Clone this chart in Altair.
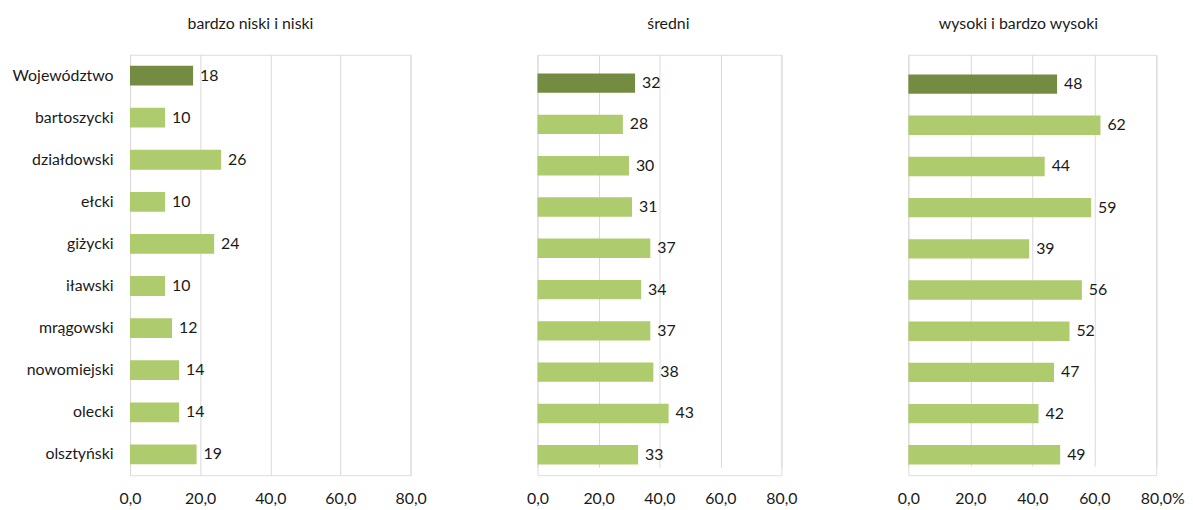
import altair as alt
import pandas as pd

# ---- data ----
regions = ["Województwo", "bartoszycki", "działdowski", "ełcki", "giżycki",
           "iławski", "mrągowski", "nowomiejski", "olecki", "olsztyński"]
niski = [18, 10, 26, 10, 24, 10, 12, 14, 14, 19]
sredni = [32, 28, 30, 31, 37, 34, 37, 38, 43, 33]
wysoki = [48, 62, 44, 59, 39, 56, 52, 47, 42, 49]
panel_titles = ["bardzo niski i niski", "średni", "wysoki i bardzo wysoki"]
x_ticks = [0, 20, 40, 60, 80]

FONT = "Lato"
TXT = "#1a1a1a"
DARK = "#748C42"
LIGHT = "#AECB6E"
GRID = "#D9D9D9"
H = 424


def panel(values, title, width, top_gap, show_y, title_dx, pct):
    df = pd.DataFrame({"region": regions, "value": values})
    df["kind"] = ["woj"] + ["pow"] * (len(regions) - 1)

    lab = "replace(format(datum.value, '.1f'), '.', ',')"
    axis_kw = dict(values=x_ticks, grid=True, gridColor=GRID, gridWidth=1,
                   domain=False, ticks=False, labelPadding=16, labelFlush=False,
                   labelFont=FONT, labelFontSize=16, labelColor=TXT, title=None)
    if pct:
        lab = lab + " + (datum.value == 80 ? '%' : '')"
        axis_kw["labelAlign"] = {"condition": {"test": "datum.value == 80", "value": "left"},
                                 "value": "center"}
        axis_kw["labelOffset"] = {"condition": {"test": "datum.value == 80", "value": -16},
                                  "value": 0}
    x = alt.X("value:Q", scale=alt.Scale(domain=[0, 80], nice=False),
              axis=alt.Axis(labelExpr=lab, **axis_kw))

    if show_y:
        yaxis = alt.Axis(title=None, domain=False, ticks=False, labelPadding=17,
                         labelFont=FONT, labelFontSize=16, labelColor=TXT)
    else:
        yaxis = None
    y = alt.Y("region:N", sort=regions,
              scale=alt.Scale(paddingInner=0.53, paddingOuter=0.26, range=[top_gap, H]),
              axis=yaxis)

    base = alt.Chart(df)
    bars = base.mark_bar().encode(
        x=x, y=y,
        color=alt.Color("kind:N", scale=alt.Scale(domain=["woj", "pow"], range=[DARK, LIGHT]),
                        legend=None),
    )
    text = base.mark_text(align="left", baseline="middle", dx=7, font=FONT,
                          fontSize=16, color=TXT).encode(
        x="value:Q", y=alt.Y("region:N", sort=regions), text="value:Q")

    return alt.layer(bars, text).properties(
        width=width, height=H,
        title=alt.TitleParams(text=title, font=FONT, fontSize=16, fontWeight="normal",
                              color=TXT, anchor="middle", dx=title_dx, offset=23),
    )


p1 = panel(niski, panel_titles[0], 283, 0, True, -20, False)
p2 = panel(sredni, panel_titles[1], 246, 8, False, 9, False)
p3 = panel(wysoki, panel_titles[2], 250, 9, False, -14, True)

chart = alt.hconcat(p1, p2, p3, spacing=99, bounds="full").properties(
    padding={"left": 3, "top": 5, "right": 0, "bottom": 5}
).configure_view(stroke=None).configure(background="white")

chart.save("out.html", embed_options={"renderer": "svg", "actions": False})
